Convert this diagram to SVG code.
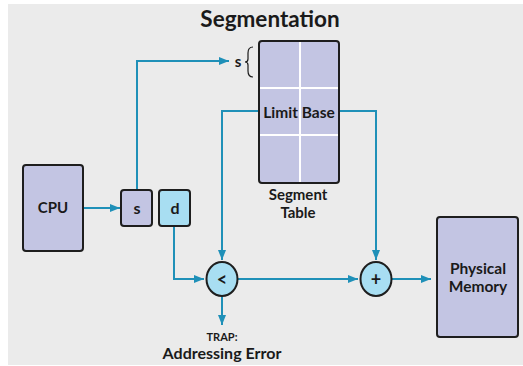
<svg xmlns="http://www.w3.org/2000/svg" width="523" height="366" viewBox="0 0 523 366">
<defs>
<style>
.bg{fill:#ebebeb}
.box{fill:#c3c5e3;stroke:#1e1e1e;stroke-width:2}
.blue{fill:#a8def2;stroke:#1e1e1e;stroke-width:2}
.grid{stroke:#ffffff;stroke-width:2;fill:none}
.wire{fill:none;stroke:#1f90b8;stroke-width:2}
.t{font-family:Lato,"Open Sans",sans-serif;font-weight:700;fill:#1a1a1a;text-anchor:middle}
</style>
<marker id="ah" viewBox="0 0 10 8" refX="10" refY="4" markerWidth="10" markerHeight="8" markerUnits="userSpaceOnUse" orient="auto">
<path d="M0,0 L10,4 L0,8 z" fill="#1f90b8"/>
</marker>
</defs>
<rect class="bg" x="8" y="4" width="515" height="361"/>
<text class="t" x="270" y="27" font-size="22.5" font-weight="900">Segmentation</text>

<g id="connectors">
<path class="wire" d="M137,190 V61 H229" marker-end="url(#ah)"/>
<path class="wire" d="M83,208 H120" marker-end="url(#ah)"/>
<path class="wire" d="M174,226 V279 H204" marker-end="url(#ah)"/>
<path class="wire" d="M259,111 H222 V260" marker-end="url(#ah)"/>
<path class="wire" d="M339,111 H376 V260" marker-end="url(#ah)"/>
<path class="wire" d="M238,279 H358" marker-end="url(#ah)"/>
<path class="wire" d="M392,279 H431" marker-end="url(#ah)"/>
<path class="wire" d="M222,296 V325" marker-end="url(#ah)"/>
</g>

<g id="segment-table">
<rect class="box" x="259" y="41" width="80" height="142" rx="3"/>
<path class="grid" d="M300,42 V182 M260,88 H338 M260,135 H338"/>
<text class="t" x="299" y="118" font-size="15.5">Limit Base</text>
<text class="t" x="298" y="200" font-size="15">Segment</text>
<text class="t" x="298" y="218" font-size="15">Table</text>
<text class="t" x="238" y="67" font-size="15">s</text>
<path d="M253,47 Q248,47 248,53 V59 Q248,62 245,62 Q248,62 248,65 V71 Q248,77 253,77" fill="none" stroke="#1a1a1a" stroke-width="1.2"/>
</g>

<g id="cpu">
<rect class="box" x="23" y="165" width="60" height="86" rx="3"/>
<text class="t" x="53" y="213" font-size="15">CPU</text>
</g>

<g id="s-box">
<rect class="box" x="121" y="190" width="31" height="36" rx="3"/>
<text class="t" x="137" y="214" font-size="16">s</text>
</g>

<g id="d-box">
<rect class="blue" x="159" y="190" width="31" height="36" rx="3"/>
<text class="t" x="175" y="214" font-size="16">d</text>
</g>

<g id="compare">
<ellipse class="blue" cx="222" cy="279" rx="15.5" ry="17"/>
<text class="t" x="222" y="285.5" font-size="18" font-weight="400">&lt;</text>
</g>

<g id="adder">
<ellipse class="blue" cx="376" cy="279" rx="15.5" ry="17"/>
<text class="t" x="376" y="285.5" font-size="18" font-weight="400">+</text>
</g>

<g id="physical-memory">
<rect class="box" x="437" y="217" width="81" height="120" rx="3"/>
<text class="t" x="478" y="274" font-size="15.5">Physical</text>
<text class="t" x="478" y="292" font-size="15.5">Memory</text>
</g>

<g id="trap">
<text class="t" x="222" y="341" font-size="11">TRAP:</text>
<text class="t" x="222" y="359" font-size="16">Addressing Error</text>
</g>
</svg>
